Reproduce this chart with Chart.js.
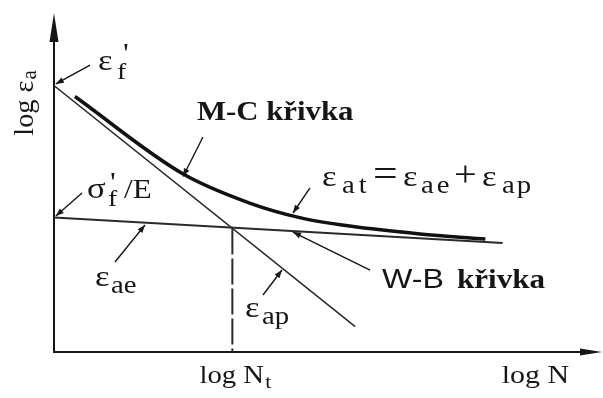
<!DOCTYPE html>
<html>
<head>
<meta charset="utf-8">
<script src="https://cdn.jsdelivr.net/npm/chart.js@4/dist/chart.umd.min.js"></script>
<style>
  html, body { margin: 0; padding: 0; background: #ffffff; }
  #wrap { width: 603px; height: 398px; }
</style>
</head>
<body>
<div id="wrap"><canvas id="c" width="603" height="398"></canvas></div>
<script>
// Strain-life (Manson-Coffin / Wöhler-Basquin) diagram in log-log coordinates.
// x: log N (cycles to failure), y: log ε_a (strain amplitude).

// Axis ranges (log units)
const logNRange = [0, 6];
const logEpsRange = [-3.5, -0.7];

// Plastic strain line ε_ap (Manson-Coffin)
const plasticLogN = [0, 3.31];
const plasticLogEps = [-1.30, -3.29];

// Elastic strain line ε_ae (Basquin)
const elasticLogN = [0, 4.93];
const elasticLogEps = [-2.39, -2.60];

// Total strain curve ε_at = ε_ae + ε_ap
const totalLogN = [0.23, 1.42, 2.15, 2.70, 3.25, 4.02, 4.74];
const totalLogEps = [-1.39, -2.03, -2.27, -2.39, -2.46, -2.525, -2.567];

// Transition life N_t (elastic and plastic lines cross)
const transitionLogN = [1.96, 1.96];
const transitionLogEps = [-2.48, -3.5];

// Positions of the two labels along the log N axis
const xTickValues = [1.96, 5.29];

const pts = (xs, ys) => xs.map((x, i) => ({ x, y: ys[i] }));

const SERIF = '"Liberation Serif", "DejaVu Serif", serif';
const SANS = '"Liberation Sans", Arial, sans-serif';
const INK = '#161616';

const F = (size, fam, bold) => (bold ? 'bold ' : '') + size + 'px ' + (fam || SERIF);
const eps = (ox) => ({ t: 'ε', font: F(30), ox });
const sub = (t, ox, ls) => ({ t, font: F(25), dy: 7, ox, ls });
const prime = (ox, dy) => ({ t: "'", font: F(28), ox, dy });

// Callout labels, anchored in data coordinates (left edge, baseline).
// ox = offset of a run from the anchor in px; runs without ox follow the previous one.
const callouts = [
  { at: [0.484, -1.171], runs: [eps(0), prime(25, -8), { t: 'f', font: F(24), ox: 19, dy: 9 }] },
  { at: [0.363, -2.225], runs: [{ t: 'σ', font: F(30), ox: 0 }, prime(23, -7), { t: 'f', font: F(24), ox: 21, dy: 8 }, { t: '/E', font: F(27), ox: 37 }] },
  { at: [1.571, -1.584], stretch: 1.1, runs: [{ t: 'M-C křivka', font: F(28, SERIF, true) }] },
  { at: [2.945, -2.132], runs: [eps(0), sub('at', 20, 4), { t: '=', font: F(38), ox: 51 }, eps(81), sub('ae', 99, 3), { t: '+', font: F(35), ox: 132 }, eps(160), sub('ap', 180, 2)] },
  { at: [3.604, -2.971], runs: [{ t: 'W-B', font: F(28, SANS), ox: 0 }, { t: 'křivka', font: F(27, SERIF, true), ox: 75 }] },
  { at: [0.451, -2.955], runs: [eps(0), sub('ae', 16)] },
  { at: [2.099, -3.212], runs: [eps(0), sub('ap', 17)] }
];

// Leader lines with arrowheads at the "to" end
const leaders = [
  { from: [0.396, -1.130], to: [0.02, -1.286] },
  { from: [0.308, -2.187], to: [0.02, -2.377] },
  { from: [1.637, -1.724], to: [1.418, -2.050] },
  { from: [2.813, -2.145], to: [2.626, -2.352] },
  { from: [3.473, -2.823], to: [2.626, -2.509] },
  { from: [0.670, -2.757], to: [1.0, -2.451] },
  { from: [2.297, -3.029], to: [2.505, -2.823] }
];

// Draws text runs, stretched along the writing direction
function drawRuns(ctx, x, y, runs, stretch) {
  const s = stretch || 1.15;
  ctx.save();
  ctx.translate(x, y);
  ctx.scale(s, 1);
  let cx = 0;
  for (const r of runs) {
    ctx.font = r.font;
    if (r.ox !== undefined) cx = r.ox / s;
    else cx += (r.dx || 0);
    if (r.ls) {
      for (const ch of r.t) {
        ctx.fillText(ch, cx, r.dy || 0);
        cx += ctx.measureText(ch).width + r.ls / s;
      }
    } else {
      ctx.fillText(r.t, cx, r.dy || 0);
      cx += ctx.measureText(r.t).width;
    }
  }
  ctx.restore();
}

function runsWidth(ctx, runs, stretch) {
  const s = stretch || 1.15;
  let cx = 0;
  ctx.save();
  for (const r of runs) {
    ctx.font = r.font;
    cx += (r.dx || 0) + ctx.measureText(r.t).width;
  }
  ctx.restore();
  return cx * s;
}

function arrowHead(ctx, x0, y0, x1, y1, len, half) {
  const a = Math.atan2(y1 - y0, x1 - x0);
  const bx = x1 - len * Math.cos(a), by = y1 - len * Math.sin(a);
  const nx = -Math.sin(a) * half, ny = Math.cos(a) * half;
  ctx.beginPath();
  ctx.moveTo(x1, y1);
  ctx.lineTo(bx + nx, by + ny);
  ctx.lineTo(bx - nx, by - ny);
  ctx.closePath();
  ctx.fill();
}

const diagramPlugin = {
  id: 'diagramDecor',
  beforeDatasetsDraw(chart) {
    const { ctx, chartArea: a } = chart;
    ctx.save();
    ctx.strokeStyle = INK;
    ctx.fillStyle = INK;
    ctx.lineWidth = 2;
    // y axis with arrow
    ctx.beginPath();
    ctx.moveTo(a.left, a.bottom + 1);
    ctx.lineTo(a.left, a.top + 10);
    ctx.stroke();
    ctx.beginPath();
    ctx.moveTo(a.left, a.top);
    ctx.lineTo(a.left + 4.5, a.top + 29);
    ctx.lineTo(a.left - 4.5, a.top + 29);
    ctx.closePath();
    ctx.fill();
    // x axis with arrow
    ctx.beginPath();
    ctx.moveTo(a.left - 1, a.bottom);
    ctx.lineTo(a.right - 10, a.bottom);
    ctx.stroke();
    ctx.beginPath();
    ctx.moveTo(a.right + 2, a.bottom);
    ctx.lineTo(a.right - 20, a.bottom - 3.5);
    ctx.lineTo(a.right - 20, a.bottom + 3.5);
    ctx.closePath();
    ctx.fill();
    ctx.restore();
  },
  afterDatasetsDraw(chart) {
    const { ctx, chartArea: a, scales: { x, y } } = chart;
    ctx.save();
    ctx.fillStyle = INK;
    ctx.strokeStyle = INK;
    ctx.textBaseline = 'alphabetic';
    ctx.textAlign = 'left';

    // leaders
    ctx.lineWidth = 1.4;
    for (const l of leaders) {
      const x0 = x.getPixelForValue(l.from[0]), y0 = y.getPixelForValue(l.from[1]);
      const x1 = x.getPixelForValue(l.to[0]), y1 = y.getPixelForValue(l.to[1]);
      ctx.beginPath();
      ctx.moveTo(x0, y0);
      ctx.lineTo(x1, y1);
      ctx.stroke();
      arrowHead(ctx, x0, y0, x1, y1, 8, 3);
    }

    // callout texts
    for (const c of callouts) {
      drawRuns(ctx, x.getPixelForValue(c.at[0]), y.getPixelForValue(c.at[1]), c.runs, c.stretch);
    }

    // labels under the log N axis
    const base = a.bottom + 31;
    const ntRuns = [{ t: 'log N', font: F(25) }, { t: 't', font: F(19), dx: 1, dy: 5 }];
    const wNt = runsWidth(ctx, ntRuns);
    drawRuns(ctx, x.getPixelForValue(xTickValues[0]) - wNt / 2 + 3, base, ntRuns);
    const nRuns = [{ t: 'log N', font: F(26) }];
    const wN = runsWidth(ctx, nRuns);
    drawRuns(ctx, x.getPixelForValue(xTickValues[1]) - wN / 2, base, nRuns);

    // y axis title, rotated
    ctx.translate(a.left - 21, y.getPixelForValue(-1.443));
    ctx.rotate(-Math.PI / 2);
    const yRuns = [{ t: 'log ε', font: F(27) }, { t: 'a', font: F(20), dx: 1, dy: 3 }];
    const wY = runsWidth(ctx, yRuns, 1.05);
    drawRuns(ctx, -wY / 2, 0, yRuns, 1.05);
    ctx.restore();
  }
};

new Chart(document.getElementById('c'), {
  type: 'line',
  data: {
    datasets: [
      {
        label: 'ε_ap',
        data: pts(plasticLogN, plasticLogEps),
        borderColor: '#2a2a2a', borderWidth: 1.5, pointRadius: 0, tension: 0
      },
      {
        label: 'ε_ae',
        data: pts(elasticLogN, elasticLogEps),
        borderColor: '#2a2a2a', borderWidth: 2, pointRadius: 0, tension: 0
      },
      {
        label: 'ε_at',
        data: pts(totalLogN, totalLogEps),
        borderColor: '#111111', borderWidth: 3.5, pointRadius: 0,
        cubicInterpolationMode: 'monotone'
      },
      {
        label: 'N_t',
        data: pts(transitionLogN, transitionLogEps),
        borderColor: '#2a2a2a', borderWidth: 2, borderDash: [26, 4], pointRadius: 0, tension: 0
      }
    ]
  },
  options: {
    responsive: false,
    animation: false,
    devicePixelRatio: 1,
    layout: { padding: { left: 54, right: 3, top: 13, bottom: 46 } },
    plugins: { legend: { display: false }, tooltip: { enabled: false }, title: { display: false } },
    scales: {
      x: { type: 'linear', min: logNRange[0], max: logNRange[1], display: false },
      y: { type: 'linear', min: logEpsRange[0], max: logEpsRange[1], display: false }
    }
  },
  plugins: [diagramPlugin]
});
</script>
</body>
</html>
